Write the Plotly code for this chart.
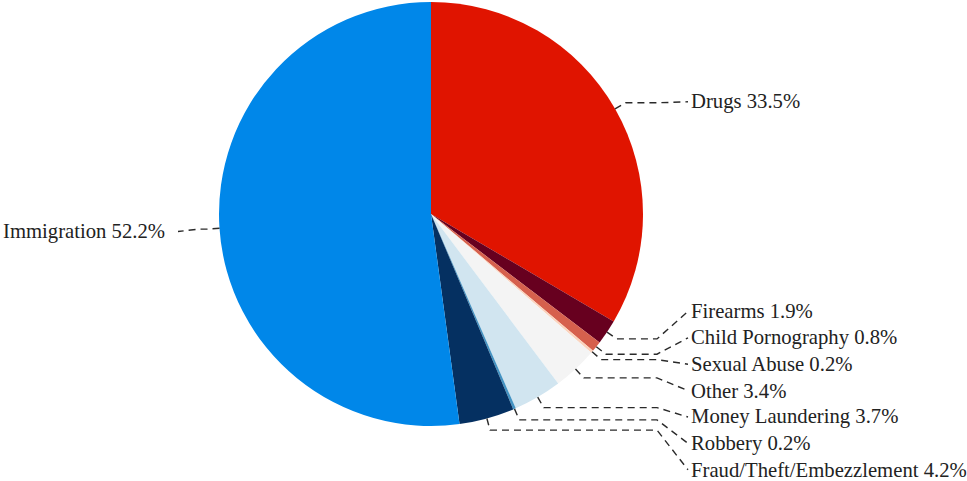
import math
import plotly.graph_objects as go

# ---- data ----
categories = ["Drugs", "Firearms", "Child Pornography", "Sexual Abuse", "Other",
              "Money Laundering", "Robbery", "Fraud/Theft/Embezzlement", "Immigration"]
shares = [33.5, 1.9, 0.8, 0.2, 3.4, 3.7, 0.2, 4.2, 52.2]
colors = ["#e01400", "#67001f", "#d6604d", "#fbd3bd", "#f4f4f4",
          "#d1e5f0", "#4393c3", "#053061", "#0087e9"]

# ---- layout constants (pixels) ----
W, H = 967, 481
CX, CY, R = 431, 214, 212
ELBOW = 12          # radial length of first leader segment
SPACING = 26.4      # vertical spacing between stacked labels
FONT = dict(family="Liberation Serif, Times New Roman, serif", size=20.7, color="#222")

fig = go.Figure()
fig.add_trace(go.Pie(
    labels=categories, values=shares, sort=False, direction="clockwise", rotation=0,
    marker=dict(colors=colors, line=dict(width=0)),
    textinfo="none", hoverinfo="label+percent", showlegend=False,
    domain=dict(x=[(CX - R) / W, (CX + R) / W], y=[1 - (CY + R) / H, 1 - (CY - R) / H]),
))

# ---- leader line geometry derived from the data ----
total = sum(shares)
items = []
cum = 0.0
for name, v in zip(categories, shares):
    mid = (cum + v / 2) / total * 2 * math.pi
    cum += v
    s, c = math.sin(mid), math.cos(mid)
    p0 = (CX + R * s, CY - R * c)
    p1 = (CX + (R + ELBOW) * s, CY - (R + ELBOW) * c)
    want = CY - (R + 18) * c + 2
    items.append(dict(text=f"{name} {v}%", p0=p0, p1=p1, right=s >= 0, want=want))


def place(group):
    group = sorted(group, key=lambda d: d["want"])
    clusters = []
    for it in group:
        clusters.append([it])
        while len(clusters) > 1:
            a, b = clusters[-2], clusters[-1]
            ta = sum(d["want"] for d in a) / len(a) - (len(a) - 1) * SPACING / 2
            tb = sum(d["want"] for d in b) / len(b) - (len(b) - 1) * SPACING / 2
            if ta + len(a) * SPACING > tb:
                clusters[-2:] = [a + b]
            else:
                break
    for cl in clusters:
        top = sum(d["want"] for d in cl) / len(cl) - (len(cl) - 1) * SPACING / 2
        for k, d in enumerate(cl):
            d["y"] = top + k * SPACING


place([d for d in items if d["right"]])
place([d for d in items if not d["right"]])

shapes, annos = [], []
for d in items:
    (x0, y0), (x1, y1), ly = d["p0"], d["p1"], d["y"]
    if d["right"]:
        lx = CX + R + 46
        x2, x3 = lx - 32, lx - 1
        anchor = "left"
    else:
        lx = CX - R - 52
        x2, x3 = lx + 32, lx + 11
        anchor = "right"
    shapes.append(dict(type="path", xref="x", yref="y",
                       path=f"M{x0:.1f},{y0:.1f} L{x1:.1f},{y1:.1f} L{x2:.1f},{y1:.1f} L{x3:.1f},{ly:.1f}",
                       line=dict(color="#2a2a2a", width=1.4, dash="7px,5px"), layer="above"))
    annos.append(dict(x=lx, y=ly, xref="x", yref="y", text=d["text"], showarrow=False,
                      xanchor=anchor, yanchor="middle", font=FONT))

fig.update_layout(
    width=W, height=H, margin=dict(l=0, r=0, t=0, b=0),
    paper_bgcolor="white", plot_bgcolor="white",
    xaxis=dict(range=[0, W], visible=False, fixedrange=True),
    yaxis=dict(range=[H, 0], visible=False, fixedrange=True),
    shapes=shapes, annotations=annos,
)

fig.write_html("out.html", config={"displayModeBar": False},
               post_script="document.body.style.margin='0';document.body.style.overflow='hidden';")
